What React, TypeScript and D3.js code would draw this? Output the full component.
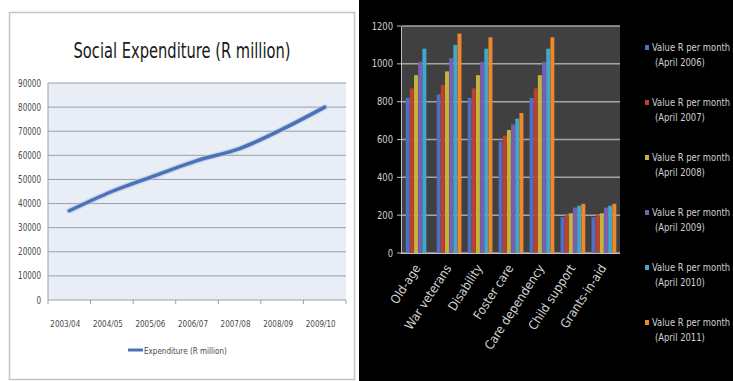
import React from "react";
import * as d3 from "d3";

const years = ["2003/04", "2004/05", "2005/06", "2006/07", "2007/08", "2008/09", "2009/10"];
const expenditure = [37000, 45000, 51500, 57800, 62800, 70800, 80000];
const yTicksLeft = [0, 10000, 20000, 30000, 40000, 50000, 60000, 70000, 80000, 90000];

const grantTypes = ["Old-age", "War veterans", "Disability", "Foster care", "Care dependency", "Child support", "Grants-in-aid"];
const seriesNames = ["(April 2006)", "(April 2007)", "(April 2008)", "(April 2009)", "(April 2010)", "(April 2011)"];
const v2006 = [820, 838, 820, 590, 820, 190, 190];
const v2007 = [870, 888, 870, 620, 870, 200, 200];
const v2008 = [940, 960, 940, 650, 940, 210, 210];
const v2009 = [1010, 1030, 1010, 680, 1010, 240, 240];
const v2010 = [1080, 1100, 1080, 710, 1080, 250, 250];
const v2011: (number | null)[] = [null, 1160, 1140, 740, 1140, 260, 260];
const seriesValues = [v2006, v2007, v2008, v2009, v2010, v2011];
const yTicksRight = [0, 200, 400, 600, 800, 1000, 1200];
const barColors = ["#4f6fc4", "#c0402f", "#c4b43c", "#7a5fb0", "#3fa8cc", "#f0882a"];

const FONT = "'DejaVu Sans', sans-serif";

type NTProps = {
  x: number;
  y: number;
  size: number;
  fill: string;
  anchor?: "start" | "middle" | "end";
  sx?: number;
  rotate?: number;
  weight?: number | string;
  children: React.ReactNode;
};

function NText({ x, y, size, fill, anchor = "start", sx = 0.82, rotate = 0, weight = "normal", children }: NTProps) {
  return (
    <text
      transform={`translate(${x},${y}) rotate(${rotate}) scale(${sx},1)`}
      textAnchor={anchor}
      fontSize={size}
      fontFamily={FONT}
      fontWeight={weight}
      fill={fill}
    >
      {children}
    </text>
  );
}

function LeftChart() {
  const x = d3.scaleBand().domain(years).range([48, 346]);
  const y = d3.scaleLinear().domain([0, 90000]).range([300, 83]);
  const cx = (d: string) => (x(d) as number) + x.bandwidth() / 2;
  const line = d3
    .line<number>()
    .x((_, i) => cx(years[i]))
    .y((d) => y(d))
    .curve(d3.curveMonotoneX);
  return (
    <g>
      <rect x={0} y={0} width={359} height={381} fill="#ffffff" />
      <rect x={9.5} y={12.5} width={345} height={367} fill="#ffffff" stroke="#c4c4c4" strokeWidth={1.5} />
      <NText x={182} y={58} size={21} anchor="middle" fill="#1a1a1a" sx={0.7} weight={500}>
        Social Expenditure (R million)
      </NText>
      <rect x={48} y={83} width={298} height={217} fill="#e8edf6" />
      {yTicksLeft.map((t) => (
        <line key={t} x1={48} x2={346} y1={y(t)} y2={y(t)} stroke="#9aa0a8" strokeWidth={1} />
      ))}
      <line x1={48} x2={48} y1={83} y2={300} stroke="#9aa0a8" />
      {years.map((d) => (
        <line key={d} x1={x(d) as number} x2={x(d) as number} y1={300} y2={304} stroke="#9aa0a8" />
      ))}
      <line x1={346} x2={346} y1={300} y2={304} stroke="#9aa0a8" />
      {yTicksLeft.map((t) => (
        <NText key={t} x={41} y={y(t) + 3.5} size={10} anchor="end" fill="#4a4a4a" sx={0.72}>
          {t}
        </NText>
      ))}
      {years.map((d) => (
        <NText key={d} x={cx(d) - 4} y={327} size={9.5} anchor="middle" fill="#4a4a4a" sx={0.76}>
          {d}
        </NText>
      ))}
      <path d={line(expenditure) as string} fill="none" stroke="#b8c8e4" strokeWidth={6} strokeLinecap="round" opacity={0.6} />
      <path d={line(expenditure) as string} fill="none" stroke="#4a72b6" strokeWidth={3.5} strokeLinecap="round" />
      <line x1={128} x2={143} y1={350} y2={350} stroke="#4a72b6" strokeWidth={3} />
      <NText x={144} y={353.5} size={9.5} fill="#4a4a4a" sx={0.76}>
        Expenditure (R million)
      </NText>
    </g>
  );
}

function RightChart() {
  const x0 = d3.scaleBand().domain(grantTypes).range([402, 620]).paddingInner(0.2).paddingOuter(0.12);
  const x1 = d3.scaleBand().domain(seriesNames).range([0, x0.bandwidth()]).paddingInner(0.05);
  const y = d3.scaleLinear().domain([0, 1200]).range([253, 26]);
  return (
    <g>
      <rect x={359} y={0} width={374} height={381} fill="#000000" />
      <rect x={402} y={26} width={218} height={227} fill="#404040" />
      {yTicksRight.map((t) => (
        <line key={t} x1={402} x2={620} y1={y(t)} y2={y(t)} stroke="#a6a6a6" strokeWidth={1.5} />
      ))}
      {seriesValues.map((vals, si) =>
        grantTypes.map((g, gi) => {
          const v = vals[gi];
          if (v == null) return null;
          const bx = (x0(g) as number) + (x1(seriesNames[si]) as number);
          return (
            <rect key={g + si} x={bx} y={y(v)} width={x1.bandwidth()} height={253 - y(v)} fill={barColors[si]} />
          );
        })
      )}
      <line x1={401.5} x2={401.5} y1={26} y2={254} stroke="#bfbfbf" />
      <line x1={401} x2={620} y1={253.5} y2={253.5} stroke="#bfbfbf" />
      {yTicksRight.map((t) => (
        <line key={t} x1={397} x2={401} y1={y(t)} y2={y(t)} stroke="#bfbfbf" />
      ))}
      {yTicksRight.map((t) => (
        <NText key={t} x={393} y={y(t) + 3.5} size={10.5} anchor="end" fill="#d0d0d0" sx={0.8}>
          {t}
        </NText>
      ))}
      {grantTypes.map((g) => {
        const cx = (x0(g) as number) + x0.bandwidth() / 2 + 3;
        return (
          <NText key={g} x={cx} y={268} size={12.5} anchor="end" fill="#d0d0d0" sx={0.9} rotate={-57}>
            {g}
          </NText>
        );
      })}
      {seriesNames.map((s, i) => {
        const ly = 48 + i * 55;
        return (
          <g key={s}>
            <rect x={645} y={ly - 3} width={4} height={5} fill={barColors[i]} />
            <NText x={652} y={ly + 3} size={10.5} fill="#d0d0d0" sx={0.8}>
              Value R per month
            </NText>
            <NText x={655} y={ly + 18} size={10.5} fill="#d0d0d0" sx={0.8}>
              {s}
            </NText>
          </g>
        );
      })}
    </g>
  );
}

export default function App() {
  return (
    <svg
      width={733}
      height={381}
      style={{ position: "absolute", left: 0, top: 0, display: "block" }}
      xmlns="http://www.w3.org/2000/svg"
    >
      <LeftChart />
      <RightChart />
    </svg>
  );
}
